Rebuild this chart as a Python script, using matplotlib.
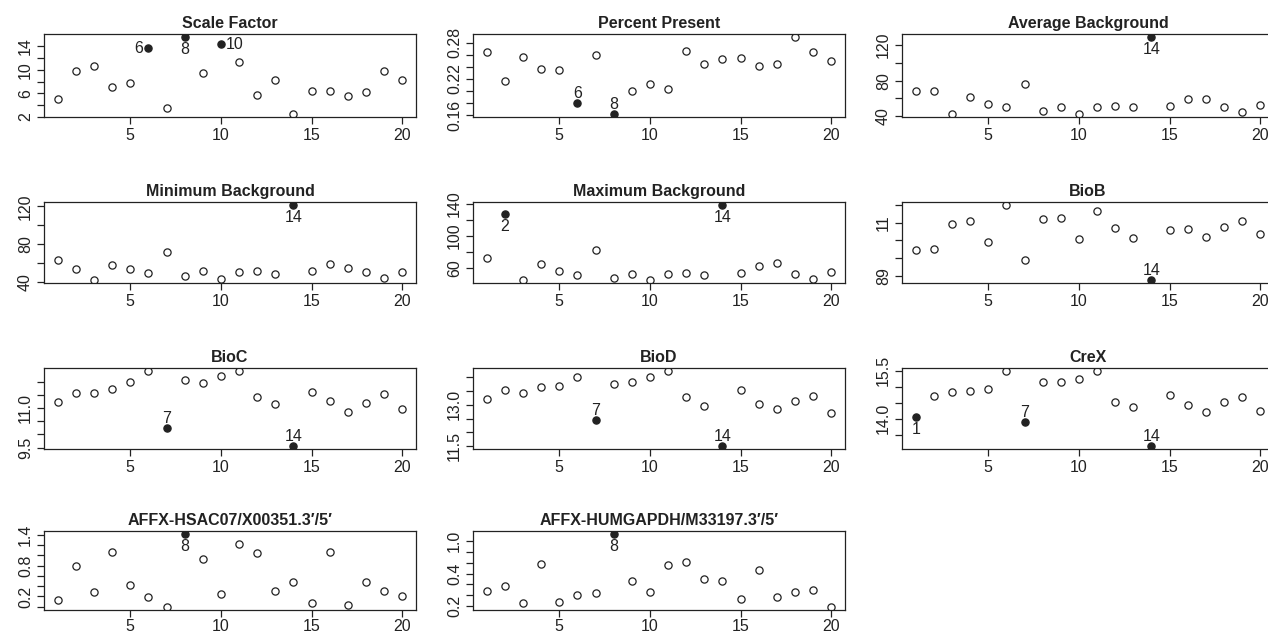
import matplotlib
matplotlib.use("Agg")
import matplotlib.pyplot as plt

plt.rcParams["font.family"] = ["Liberation Sans", "DejaVu Sans"]

arrays = list(range(1, 21))

titles = [
    "Scale Factor", "Percent Present", "Average Background",
    "Minimum Background", "Maximum Background", "BioB",
    "BioC", "BioD", "CreX",
    "AFFX-HSAC07/X00351.3\u2032/5\u2032", "AFFX-HUMGAPDH/M33197.3\u2032/5\u2032",
]

scale_factor = [5.03, 9.89, 10.63, 7.14, 7.71, 13.66, 3.49, 15.6, 9.54, 14.34,
                11.31, 5.71, 8.23, 2.57, 6.46, 6.40, 5.49, 6.23, 9.89, 8.29]
percent_present = [0.2655, 0.2169, 0.256, 0.2359, 0.2342, 0.180, 0.2605, 0.1622, 0.1996, 0.2114,
                   0.2041, 0.2661, 0.2448, 0.2532, 0.2555, 0.2409, 0.2454, 0.2895, 0.2655, 0.2493]
avg_background = [68.2, 68.6, 42.7, 62.1, 54.1, 49.9, 75.8, 46.1, 51.0, 43.0,
                  50.3, 51.8, 49.9, 128.8, 51.4, 59.4, 59.0, 51.0, 45.3, 53.0]
min_background = [62.8, 53.0, 41.8, 57.9, 53.3, 49.5, 71.2, 45.6, 50.9, 42.8,
                   49.8, 50.9, 47.7, 121.4, 50.9, 58.6, 54.7, 49.8, 44.2, 50.5]
max_background = [72.8, 127.6, 44.7, 65.4, 55.9, 51.3, 82.4, 46.7, 52.1, 45.1,
                  51.7, 53.0, 51.3, 138.8, 53.0, 62.1, 66.2, 51.7, 46.3, 54.6]
biob = [9.44, 9.53, 10.90, 11.08, 9.91, 12.0, 8.88, 11.21, 11.29, 10.06,
        11.66, 10.71, 10.11, 7.76, 10.56, 10.62, 10.17, 10.73, 11.10, 10.34]
bioc = [11.225, 11.59, 11.59, 11.725, 11.99, 12.41, 10.26, 12.06, 11.96, 12.21,
        12.40, 11.41, 11.14, 9.56, 11.60, 11.26, 10.86, 11.19, 11.55, 10.96]
biod = [13.215, 13.55, 13.43, 13.66, 13.70, 14.02, 12.43, 13.77, 13.84, 14.02,
        14.23, 13.28, 12.97, 11.50, 13.53, 13.03, 12.84, 13.12, 13.31, 12.71]
crex = [14.04, 14.72, 14.82, 14.87, 14.92, 15.49, 13.89, 15.13, 15.15, 15.24,
        15.49, 14.53, 14.36, 13.14, 14.74, 14.42, 14.22, 14.51, 14.68, 14.25]
hsac07 = [0.131, 0.781, 0.281, 1.069, 0.419, 0.194, -0.006, 1.4125, 0.925, 0.25,
          1.219, 1.044, 0.30, 0.481, 0.081, 1.063, 0.025, 0.475, 0.306, 0.2125]
gapdh = [0.38, 0.452, 0.244, 0.724, 0.252, 0.332, 0.36, 1.088, 0.508, 0.376,
         0.704, 0.744, 0.528, 0.508, 0.292, 0.64, 0.316, 0.368, 0.404, 0.188]

series = [scale_factor, percent_present, avg_background, min_background, max_background,
          biob, bioc, biod, crex, hsac07, gapdh]

# flagged arrays per panel and where their label goes
flagged = [
    {6: "left", 8: "below", 10: "right"},
    {6: "above", 8: "above"},
    {14: "below"},
    {14: "below"},
    {2: "below", 14: "below"},
    {14: "above"},
    {7: "above", 14: "above"},
    {7: "above", 14: "above"},
    {1: "below", 7: "above", 14: "above"},
    {8: "below"},
    {8: "below"},
]

ytick_vals = [
    [2, 4, 6, 8, 10, 12, 14],
    [0.16, 0.18, 0.20, 0.22, 0.24, 0.26, 0.28],
    [40, 60, 80, 100, 120],
    [40, 60, 80, 100, 120],
    [60, 80, 100, 120, 140],
    [8, 9, 10, 11, 12],
    [9.5, 10.0, 10.5, 11.0, 11.5, 12.0],
    [11.5, 12.0, 12.5, 13.0, 13.5, 14.0],
    [13.5, 14.0, 14.5, 15.0, 15.5],
    [0.0, 0.2, 0.4, 0.6, 0.8, 1.0, 1.2, 1.4],
    [0.2, 0.333, 0.467, 0.6, 0.733, 0.867, 1.0],
]
ytick_labels = [
    ["2", "", "6", "", "10", "", "14"],
    ["0.16", "", "", "0.22", "", "", "0.28"],
    ["40", "", "80", "", "120"],
    ["40", "", "80", "", "120"],
    ["60", "", "100", "", "140"],
    ["89", "", "", "11", ""],
    ["9.5", "", "", "11.0", "", ""],
    ["11.5", "", "", "13.0", "", ""],
    ["", "14.0", "", "", "15.5"],
    ["", "0.2", "", "", "0.8", "", "", "1.4"],
    ["0.2", "", "", "0.4", "", "", "1.0"],
]
xticks = [5, 10, 15, 20]

W, H = 1268, 638
fig = plt.figure(figsize=(W / 100, H / 100), dpi=100)

col_left = [44, 473, 902]
ax_w = 372
rows = [(34, 117), (202, 283), (368, 449), (531, 610)]

offsets = {
    "below": ((0, -5), "center", "top"),
    "above": ((0, 5), "center", "baseline"),
    "left": ((-5, 0), "right", "center"),
    "right": ((5, 0), "left", "center"),
}

ink = "#222222"
for i, vals in enumerate(series):
    r, c = divmod(i, 3)
    top, bot = rows[r]
    ax = fig.add_axes([col_left[c] / W, 1 - bot / H, ax_w / W, (bot - top) / H])
    flags = flagged[i]
    open_x = [a for a in arrays if a not in flags]
    open_y = [v for a, v in zip(arrays, vals) if a not in flags]
    fill_x = [a for a in arrays if a in flags]
    fill_y = [v for a, v in zip(arrays, vals) if a in flags]
    ax.plot(open_x, open_y, "o", ms=5.2, mfc="white", mec=ink, mew=0.9, ls="none")
    ax.plot(fill_x, fill_y, "o", ms=5.2, mfc=ink, mec=ink, mew=0.9, ls="none")
    ax.margins(x=0.04, y=0.04)
    for a, side in flags.items():
        off, ha, va = offsets[side]
        ax.annotate(str(a), (a, vals[a - 1]), xytext=off, textcoords="offset pixels",
                    ha=ha, va=va, fontsize=11.5, color=ink)
    ax.set_xticks(xticks)
    ax.set_yticks(ytick_vals[i], labels=ytick_labels[i])
    for lab in ax.get_yticklabels():
        lab.set_rotation(90)
        lab.set_va("center")
    ax.tick_params(direction="out", length=5, width=0.9, labelsize=11.5, colors=ink, pad=3)
    if r == 3:
        ax.tick_params(axis="x", pad=1.5)
    for s in ax.spines.values():
        s.set_linewidth(0.9)
        s.set_color(ink)
    ax.set_title(titles[i], fontsize=11.5, fontweight="bold", color=ink, pad=4)

fig.savefig("out.png", dpi=100)
